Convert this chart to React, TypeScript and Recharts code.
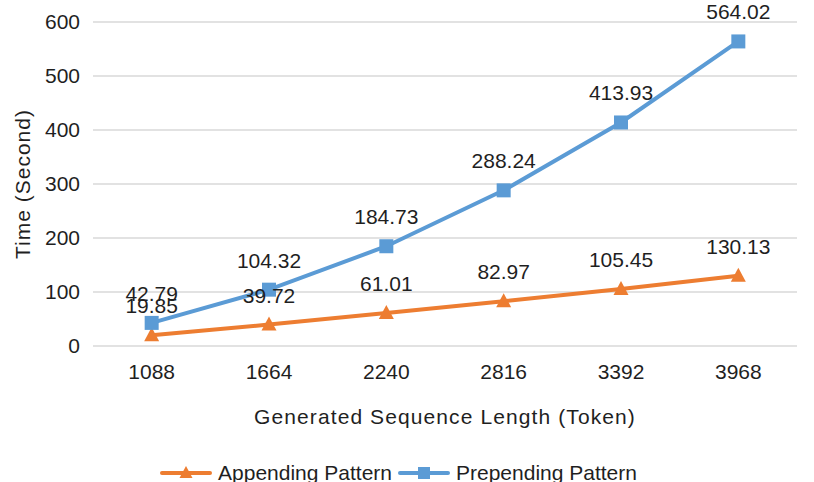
import { LineChart, Line, XAxis, YAxis, CartesianGrid, Legend, LabelList } from 'recharts'

const lengths = ['1088', '1664', '2240', '2816', '3392', '3968']
const appending = [19.85, 39.72, 61.01, 82.97, 105.45, 130.13]
const prepending = [42.79, 104.32, 184.73, 288.24, 413.93, 564.02]
const yTicks = [0, 100, 200, 300, 400, 500, 600]

const ORANGE = '#ED7D31'
const BLUE = '#5B9BD5'
const FONT = '"Liberation Sans", Arial, Helvetica, sans-serif'
const TEXT = '#1f1f1f'

const data = lengths.map((len, i) => ({ len, appending: appending[i], prepending: prepending[i] }))

function Triangle({ cx, cy, fill }: { cx?: number; cy?: number; fill: string }) {
  if (cx == null || cy == null) return null
  return <polygon points={`${cx},${cy - 8} ${cx + 7.5},${cy + 6} ${cx - 7.5},${cy + 6}`} fill={fill} />
}

function Square({ cx, cy, fill }: { cx?: number; cy?: number; fill: string }) {
  if (cx == null || cy == null) return null
  return <rect x={cx - 7} y={cy - 7} width={14} height={14} fill={fill} />
}

function LegendIcon({ color, shape }: { color: string; shape: 'tri' | 'sq' }) {
  return (
    <svg width={52} height={16} style={{ display: 'block' }}>
      <line x1={2} y1={8} x2={50} y2={8} stroke={color} strokeWidth={4} strokeLinecap="round" />
      {shape === 'tri'
        ? <polygon points="26,1 32.5,13 19.5,13" fill={color} />
        : <rect x={20} y={2} width={12} height={12} fill={color} />}
    </svg>
  )
}

function ChartLegend() {
  const item = { display: 'flex', alignItems: 'center', gap: 6 } as const
  return (
    <div style={{ display: 'flex', justifyContent: 'center', gap: 6, height: 24, lineHeight: '24px', fontFamily: FONT, fontSize: 21, color: TEXT }}>
      <div style={item}><LegendIcon color={ORANGE} shape="tri" /><span>Appending Pattern</span></div>
      <div style={item}><LegendIcon color={BLUE} shape="sq" /><span>Prepending Pattern</span></div>
    </div>
  )
}

export default function App() {
  const tickStyle = { fontSize: 21, fill: TEXT, fontFamily: FONT }
  const labelStyle = { fontSize: 21, fill: TEXT, fontFamily: FONT }
  return (
    <div style={{ position: 'absolute', left: 0, top: 0, width: 814, height: 482, background: '#fff', overflow: 'hidden' }}>
      <LineChart width={814} height={482} data={data} margin={{ top: 22, right: 17, bottom: -3, left: 0 }}>
        <CartesianGrid vertical={false} stroke="#d9d9d9" strokeWidth={1.5} />
        <XAxis
          dataKey="len"
          scale="band"
          axisLine={false}
          tickLine={false}
          tickSize={0}
          tickMargin={18}
          height={115}
          tick={tickStyle}
          label={{ value: 'Generated Sequence Length (Token)', position: 'insideBottom', offset: 37, style: { ...tickStyle, letterSpacing: 1.1 } }}
        />
        <YAxis
          domain={[0, 600]}
          ticks={yTicks}
          axisLine={false}
          tickLine={false}
          tickSize={0}
          tickMargin={13}
          width={93}
          tick={tickStyle}
          label={{ value: 'Time (Second)', angle: -90, position: 'insideLeft', offset: 23, style: { ...tickStyle, textAnchor: 'middle', letterSpacing: 1 } }}
        />
        <Legend verticalAlign="bottom" height={24} content={() => <ChartLegend />} />
        <Line
          dataKey="appending"
          name="Appending Pattern"
          stroke={ORANGE}
          strokeWidth={4}
          dot={(p: any) => <Triangle key={`a${p.index}`} cx={p.cx} cy={p.cy} fill={ORANGE} />}
          activeDot={false}
          isAnimationActive={false}
        >
          <LabelList dataKey="appending" position="top" offset={22} style={labelStyle} />
        </Line>
        <Line
          dataKey="prepending"
          name="Prepending Pattern"
          stroke={BLUE}
          strokeWidth={4}
          dot={(p: any) => <Square key={`p${p.index}`} cx={p.cx} cy={p.cy} fill={BLUE} />}
          activeDot={false}
          isAnimationActive={false}
        >
          <LabelList dataKey="prepending" position="top" offset={22} style={labelStyle} />
        </Line>
      </LineChart>
    </div>
  )
}
